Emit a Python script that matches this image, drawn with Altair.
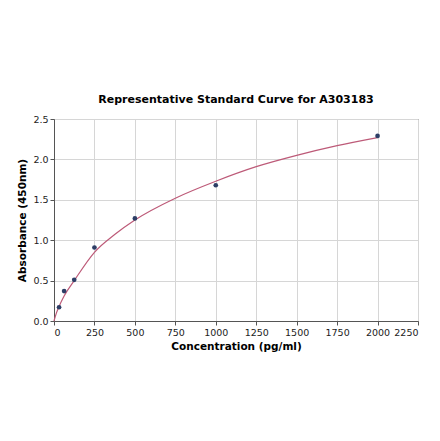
import altair as alt
import pandas as pd

# standards (pg/ml) and measured OD
conc = [31.25, 62.5, 125, 250, 500, 1000, 2000]
od = [0.17, 0.37, 0.51, 0.91, 1.27, 1.68, 2.29]

# fitted curve
fit_conc = [0, 15, 31.25, 62.5, 125, 250, 375, 500, 750, 1000, 1250, 1500, 1750, 2000]
fit_od = [0.0, 0.10, 0.18, 0.31, 0.50, 0.85, 1.07, 1.25, 1.52, 1.73, 1.91, 2.05, 2.17, 2.27]

x_ticks = [0, 250, 500, 750, 1000, 1250, 1500, 1750, 2000, 2250]
y_ticks = [0.0, 0.5, 1.0, 1.5, 2.0, 2.5]

points = pd.DataFrame({"conc": conc, "od": od})
curve = pd.DataFrame({"conc": fit_conc, "od": fit_od})

x_enc = alt.X(
    "conc:Q",
    title="Concentration (pg/ml)",
    scale=alt.Scale(domain=[0, 2250], nice=False, zero=False),
    axis=alt.Axis(values=x_ticks, format="d", titlePadding=5),
)
y_enc = alt.Y(
    "od:Q",
    title="Absorbance (450nm)",
    scale=alt.Scale(domain=[0, 2.5], nice=False),
    axis=alt.Axis(values=y_ticks, format=".1f", titlePadding=5),
)

line = alt.Chart(curve).mark_line(color="#bd5a78", strokeWidth=1.2, interpolate="monotone").encode(
    x=x_enc, y=y_enc
)
dots = alt.Chart(points).mark_circle(color="#2d3e66", size=22, opacity=1).encode(
    x="conc:Q", y="od:Q"
)

chart = (
    alt.layer(line, dots)
    .properties(
        width=364,
        height=202,
        title="Representative Standard Curve for A303183",
        autosize=alt.AutoSizeParams(type="none"),
        padding={"left": 46, "top": 111, "right": 14, "bottom": 70},
    )
    .configure_title(font="DejaVu Sans", fontSize=11, fontWeight="bold", anchor="middle", offset=9, color="black")
    .configure_axis(
        labelFont="DejaVu Sans",
        labelFontSize=9.5,
        labelColor="#222",
        titleFont="DejaVu Sans",
        titleFontSize=10.5,
        titleFontWeight="bold",
        titleColor="black",
        domainColor="#555",
        tickColor="#555",
        tickSize=4,
        gridColor="#d6d6d6",
        grid=True,
    )
    .configure_view(stroke="#555", strokeWidth=1)
)

chart.save("out.html", embed_options={"renderer": "svg", "actions": False})
